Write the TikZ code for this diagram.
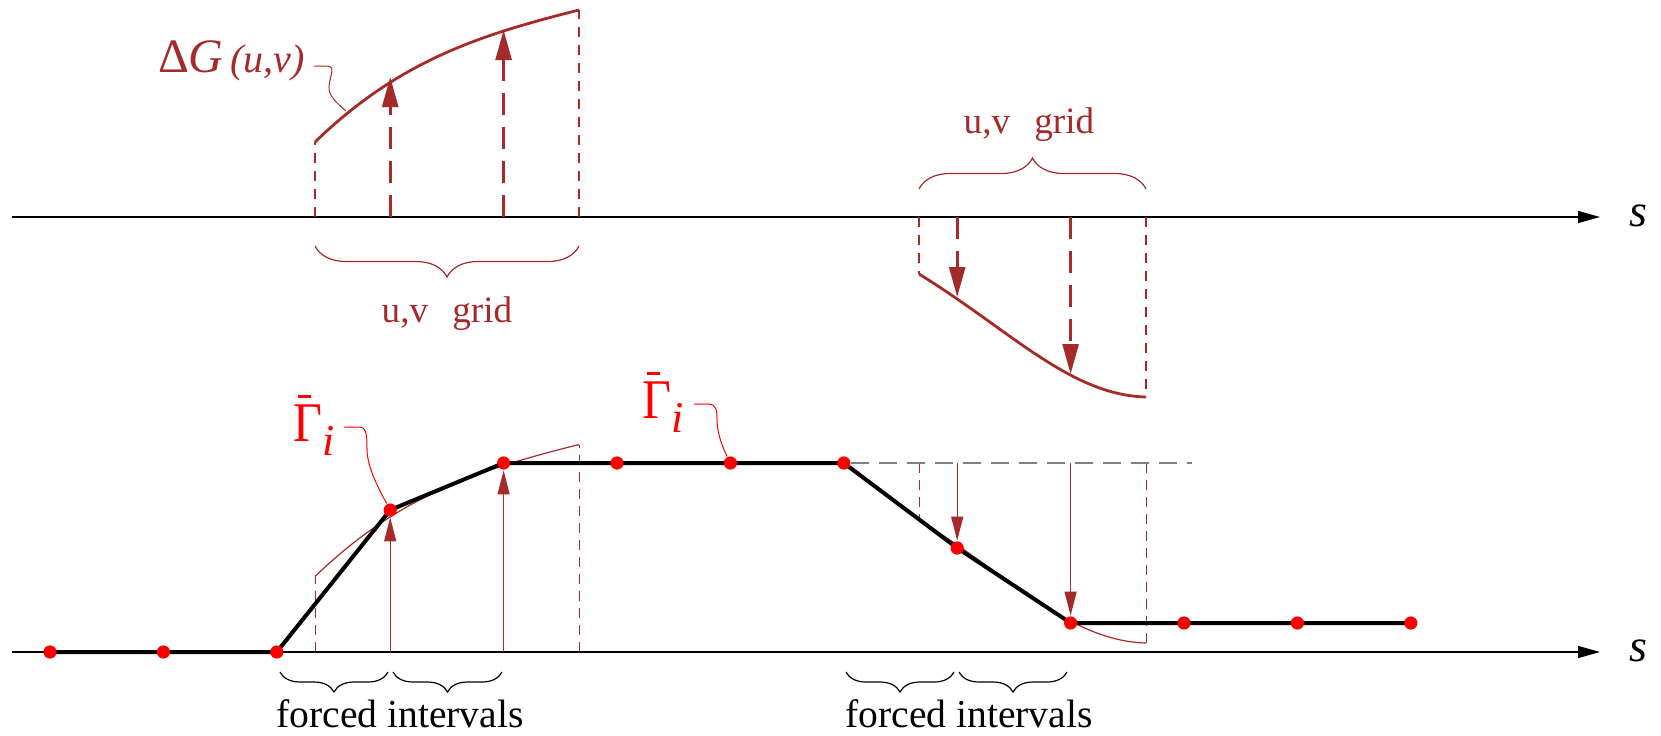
\documentclass[tikz,border=0pt]{standalone}
\usepackage{fontspec}
\setmainfont{Liberation Serif}
\usetikzlibrary{arrows.meta,decorations.pathreplacing}

\definecolor{gridred}{HTML}{A52A2A}

\newcommand{\gammabar}{\makebox[0pt][l]{\hspace{0.1em}\raisebox{0.86em}{\rule{0.26em}{0.055em}}}\scalebox{1}[1.12]{Γ}\raisebox{-7pt}{\fontsize{22}{26}\selectfont\itshape i}}

\tikzset{
  saxis/.style={draw=black, line width=0.7pt, -{Triangle[length=11pt,width=6pt]}},
  gcurve/.style={draw=gridred, line width=1.4pt},
  gthin/.style={draw=gridred, line width=0.6pt},
  gbound/.style={draw=gridred, line width=1.3pt, dash pattern=on 5pt off 4pt},
  gthinbound/.style={draw=gridred, line width=0.5pt, dash pattern=on 5pt off 3.5pt},
  gshift/.style={draw=gridred, line width=1.3pt, dash pattern=on 11pt off 6pt, -{Triangle[length=15pt,width=8pt]}},
  gforce/.style={draw=gridred, line width=0.6pt, -{Triangle[length=12pt,width=6pt]}},
  gbrace/.style={draw=gridred, line width=0.6pt, decorate},
  fbrace/.style={draw=black, line width=0.6pt, decorate, decoration={brace, mirror, amplitude=10pt}},
  levelline/.style={draw=gray, line width=0.8pt, dash pattern=on 9pt off 5pt},
  poly/.style={draw=black, line width=2pt},
  knot/.style={shape=circle, inner sep=0pt, minimum size=7pt},
  gleader/.style={draw=gridred, line width=0.5pt},
  rleader/.style={draw=red, line width=0.5pt},
  ftxt/.style={font=\fontsize{19.8}{24}\selectfont, inner sep=0pt, anchor=base},
  gridtxt/.style={text=gridred, font=\fontsize{18.6}{22}\selectfont, inner sep=0pt, anchor=base},
  gammatxt/.style={text=red, font=\fontsize{25}{29}\selectfont, inner sep=0pt, anchor=base east},
  stxt/.style={font=\fontsize{23}{27}\selectfont\itshape, inner sep=0pt, anchor=base west},
}

\begin{document}
\begin{tikzpicture}[x=0.5pt, y=-0.5pt]
  \useasboundingbox (0,0) rectangle (1661,735);

  % upper axis: shifts on the u,v grid
  \coordinate (o1) at (12,217);
  \coordinate (e1) at (1600,217);
  \draw[saxis] (o1) -- (e1);
  \node[stxt] (s1) at (1629,226) {s};

  \draw[gcurve] (315,142) .. controls (400,60) and (480,35) .. (579,10);
  \draw[gbound] (315,217) -- (315,142);
  \draw[gbound] (579,217) -- (579,10);
  \coordinate (u3) at (390.2,217);
  \coordinate (v3) at (390.2,77);
  \coordinate (u4) at (503.6,217);
  \coordinate (v4) at (503.6,30);
  \draw[gshift] (u3) -- (v3);
  \draw[gshift] (u4) -- (v4);
  \draw[gbrace, decoration={brace, mirror, amplitude=15.5pt}] (315,246) -- (579,246);
  \node[gridtxt] (g1) at (447,322) {u,v\hspace{0.65em}grid};

  \node[text=gridred, inner sep=0pt, anchor=base east] (dG) at (305,72)
    {{\fontsize{24}{28}\selectfont Δ\textit{G}}{\fontsize{20}{24}\selectfont\itshape\,(u,v)}};
  \coordinate (dGend) at (346,111);
  \draw[gleader] ([shift={(9,-6)}]dG.base east) -- ++(13,0) .. controls +(9,0) and +(1,-10) .. ++(2,20)
    .. controls +(-1,10) and +(-9,-8) .. (dGend);

  \draw[gcurve] (919,274) .. controls (1010,330) and (1070,395) .. (1146,397);
  \draw[gbound] (919,217) -- (919,274);
  \draw[gbound] (1146,217) -- (1146,397);
  \coordinate (u8) at (957.2,217);
  \coordinate (v8) at (957.2,297);
  \coordinate (u9) at (1070.6,217);
  \coordinate (v9) at (1070.6,374);
  \draw[gshift] (u8) -- (v8);
  \draw[gshift] (u9) -- (v9);
  \draw[gbrace, decoration={brace, amplitude=15.5pt}] (919,189) -- (1146,189);
  \node[gridtxt] (g2) at (1029,133) {u,v\hspace{0.65em}grid};

  % lower axis: the forced path
  \coordinate (o2) at (12,652);
  \coordinate (e2) at (1600,652);
  \draw[saxis] (o2) -- (e2);
  \node[stxt] (s2) at (1629,661) {s};

  \begin{scope}[shift={(0,434.5)}]
    \draw[gthin] (315,142) .. controls (400,60) and (480,35) .. (579,10);
    \draw[gthinbound] (315,217) -- (315,142);
    \draw[gthinbound] (579,217) -- (579,10);
  \end{scope}
  \begin{scope}[shift={(0,246)}]
    \draw[gthin] (919,274) .. controls (1010,330) and (1070,395) .. (1146,397);
    \draw[gthinbound] (919,217) -- (919,274);
    \draw[gthinbound] (1146,217) -- (1146,397);
  \end{scope}

  \node[knot] (p0) at (50,652) {};
  \node[knot] (p1) at (163.4,652) {};
  \node[knot] (p2) at (276.8,652) {};
  \node[knot] (p3) at (390.2,510) {};
  \node[knot] (p4) at (503.6,463) {};
  \node[knot] (p5) at (617,463) {};
  \node[knot] (p6) at (730.4,463) {};
  \node[knot] (p7) at (843.8,463) {};
  \node[knot] (p8) at (957.2,548) {};
  \node[knot] (p9) at (1070.6,623) {};
  \node[knot] (p10) at (1184,623) {};
  \node[knot] (p11) at (1297.4,623) {};
  \node[knot] (p12) at (1410.8,623) {};

  \coordinate (q7) at (1192,463);
  \draw[levelline] (p7) -- (q7);

  \draw[poly] (p0.center) -- (p1.center) -- (p2.center) -- (p3.center) -- (p4.center)
    -- (p5.center) -- (p6.center) -- (p7.center) -- (p8.center) -- (p9.center)
    -- (p10.center) -- (p11.center) -- (p12.center);

  \fill[red] (p0) circle (3.3pt);
  \fill[red] (p1) circle (3.3pt);
  \fill[red] (p2) circle (3.3pt);
  \fill[red] (p3) circle (3.3pt);
  \fill[red] (p4) circle (3.3pt);
  \fill[red] (p5) circle (3.3pt);
  \fill[red] (p6) circle (3.3pt);
  \fill[red] (p7) circle (3.3pt);
  \fill[red] (p8) circle (3.3pt);
  \fill[red] (p9) circle (3.3pt);
  \fill[red] (p10) circle (3.3pt);
  \fill[red] (p11) circle (3.3pt);
  \fill[red] (p12) circle (3.3pt);

  \coordinate (b3) at (390.2,652);
  \coordinate (b4) at (503.6,652);
  \coordinate (l8) at (957.2,463);
  \coordinate (l9) at (1070.6,463);
  \draw[gforce] (b3) -- (p3);
  \draw[gforce] (b4) -- (p4);
  \draw[gforce] (l8) -- (p8);
  \draw[gforce] (l9) -- (p9);

  \node[gammatxt] (G1) at (335,441) {\gammabar};
  \node[gammatxt] (G2) at (684,418) {\gammabar};
  \draw[rleader] ([shift={(9,-14)}]G1.base east) -- ++(15,0) .. controls +(8,0) and +(0,-12) .. ++(8,22)
    .. controls +(0,20) and +(-8,-15) .. (p3);
  \draw[rleader] ([shift={(10,-14)}]G2.base east) -- ++(14,0) .. controls +(9,0) and +(0,-8) .. ++(9,16)
    .. controls +(0,15) and +(-6,-12) .. (p6);

  \draw[fbrace] (280,672) -- (388,672);
  \draw[fbrace] (393,672) -- (502,672);
  \draw[fbrace] (846,672) -- (954,672);
  \draw[fbrace] (959,672) -- (1067,672);
  \node[ftxt] (f1) at (400,727) {forced intervals};
  \node[ftxt] (f2) at (969,727) {forced intervals};
\end{tikzpicture}
\end{document}
